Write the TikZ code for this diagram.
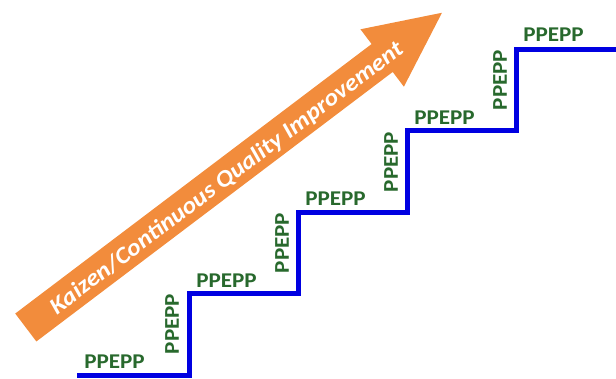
\documentclass[tikz,border=0pt]{standalone}
\usepackage{fontspec}
\setmainfont{Carlito}
\definecolor{arroworange}{RGB}{242,140,60}
\definecolor{stepblue}{RGB}{0,0,225}
\definecolor{labelgreen}{RGB}{40,105,45}
\tikzset{
  stepline/.style={draw=stepblue, line width=5pt, miter limit=10},
  hlabel/.style={text=labelgreen, inner sep=0pt, font=\fontsize{21}{21}\selectfont\bfseries},
  vlabel/.style={hlabel, rotate=90},
  bigarrow/.style={fill=arroworange, draw=none},
  arrowtext/.style={text=white, inner sep=0pt, rotate=37.1, font=\fontsize{23.5}{23.5}\selectfont\bfseries\itshape}
}
\newcommand{\lbl}{\scalebox{1.1}[1]{PPEPP}}
\begin{document}
\begin{tikzpicture}[x=1pt,y=-1pt]
\useasboundingbox (0,0) rectangle (616,378);
% big orange arrow
\fill[bigarrow] (15.24,313.54) -- (36.36,341.46) -- (392.73,71.95) -- (403.89,86.70)
  -- (441.98,12.75) -- (360.45,29.28) -- (371.61,44.03) -- cycle;
\node[arrowtext] (kaizen) at (227,178.5) {\scalebox{1.1}[1]{Kaizen/Continuous Quality Improvement}};
% staircase corners
\coordinate (s0) at (77,375);
\coordinate (s1) at (189,375);
\coordinate (s2) at (189,293.6);
\coordinate (s3) at (298,293.6);
\coordinate (s4) at (298,212.2);
\coordinate (s5) at (407,212.2);
\coordinate (s6) at (407,130.8);
\coordinate (s7) at (516,130.8);
\coordinate (s8) at (516,49.4);
\coordinate (s9) at (617,49.4);
\draw[stepline] (s0) -- (s1) -- (s2) -- (s3) -- (s4) -- (s5) -- (s6) -- (s7) -- (s8) -- (s9);
% labels
\node[hlabel] (h1) at (114.5,362) {\lbl};
\node[vlabel] (v1) at (172,324) {\lbl};
\node[hlabel] (h2) at (226.5,280.5) {\lbl};
\node[vlabel] (v2) at (282,243) {\lbl};
\node[hlabel] (h3) at (335.5,199) {\lbl};
\node[vlabel] (v3) at (391,162) {\lbl};
\node[hlabel] (h4) at (444.5,117.5) {\lbl};
\node[vlabel] (v4) at (500,80) {\lbl};
\node[hlabel] (h5) at (553.5,35) {\lbl};
\end{tikzpicture}
\end{document}
